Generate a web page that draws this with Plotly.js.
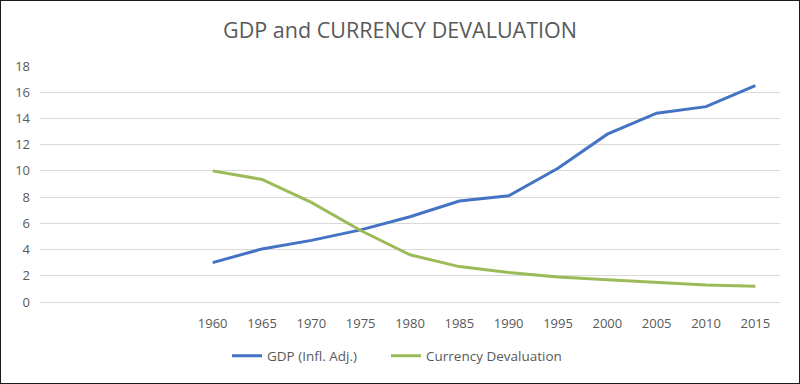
<!DOCTYPE html>
<html>
<head>
<meta charset="utf-8">
<script src="https://cdn.plot.ly/plotly-3.0.1.min.js"></script>
<style>
  html, body { margin: 0; padding: 0; background: #fff; }
  #wrap { width: 800px; height: 384px; box-sizing: border-box; border: 1px solid #1a1a1a; overflow: hidden; }
  #chart { width: 798px; height: 382px; }
</style>
</head>
<body>
<div id="wrap"><div id="chart"></div></div>
<script>
const years = [1960, 1965, 1970, 1975, 1980, 1985, 1990, 1995, 2000, 2005, 2010, 2015];
const yearLabels = ["1960","1965","1970","1975","1980","1985","1990","1995","2000","2005","2010","2015"];
const gdp = [3.0, 4.05, 4.7, 5.5, 6.5, 7.7, 8.1, 10.2, 12.8, 14.4, 14.9, 16.5];
const currency = [10.0, 9.35, 7.6, 5.45, 3.6, 2.7, 2.25, 1.9, 1.7, 1.5, 1.3, 1.2];
const yTicks = [0, 2, 4, 6, 8, 10, 12, 14, 16, 18];

const font = "Open Sans, Liberation Sans, sans-serif";
const traces = [
  { x: years, y: gdp, name: "GDP (Infl. Adj.)", type: "scatter", mode: "lines",
    line: { color: "#4472C4", width: 3 }, legend: "legend" },
  { x: years, y: currency, name: "Currency Devaluation", type: "scatter", mode: "lines",
    line: { color: "#9BBB59", width: 3 }, legend: "legend2" }
];
const legendBase = {
  orientation: "h", xref: "container", xanchor: "left",
  y: 1 - 355 / 382, yref: "container", yanchor: "middle",
  font: { size: 13.5, color: "#595959" }, itemwidth: 30, bgcolor: "rgba(0,0,0,0)"
};
const layout = {
  width: 798, height: 382,
  margin: { l: 39, r: 19, t: 65, b: 81 },
  paper_bgcolor: "#fff", plot_bgcolor: "#fff",
  font: { family: font, color: "#595959", size: 13 },
  title: { text: "GDP and CURRENCY DEVALUATION", x: 0.5, xref: "container", xanchor: "center",
           y: 1 - 29 / 382, yref: "container", yanchor: "middle",
           font: { family: font, size: 21.5, color: "#595959" } },
  xaxis: { range: [1942.5, 2017.5], tickvals: years, ticktext: yearLabels,
           showgrid: false, zeroline: false, showline: false, ticks: "",
           ticklabelstandoff: 12, tickfont: { size: 13, color: "#595959" }, fixedrange: true },
  yaxis: { range: [0, 18], tickvals: yTicks, showgrid: true, gridcolor: "#D9D9D9", gridwidth: 1,
           zeroline: true, zerolinecolor: "#D9D9D9", zerolinewidth: 1, showline: false, ticks: "",
           ticklabelstandoff: 9, tickfont: { size: 13, color: "#595959" }, fixedrange: true },
  showlegend: true,
  legend: Object.assign({}, legendBase, { x: 226 / 798 }),
  legend2: Object.assign({}, legendBase, { x: 385 / 798 })
};
Plotly.newPlot("chart", traces, layout, { displayModeBar: false, staticPlot: true });
</script>
</body>
</html>
